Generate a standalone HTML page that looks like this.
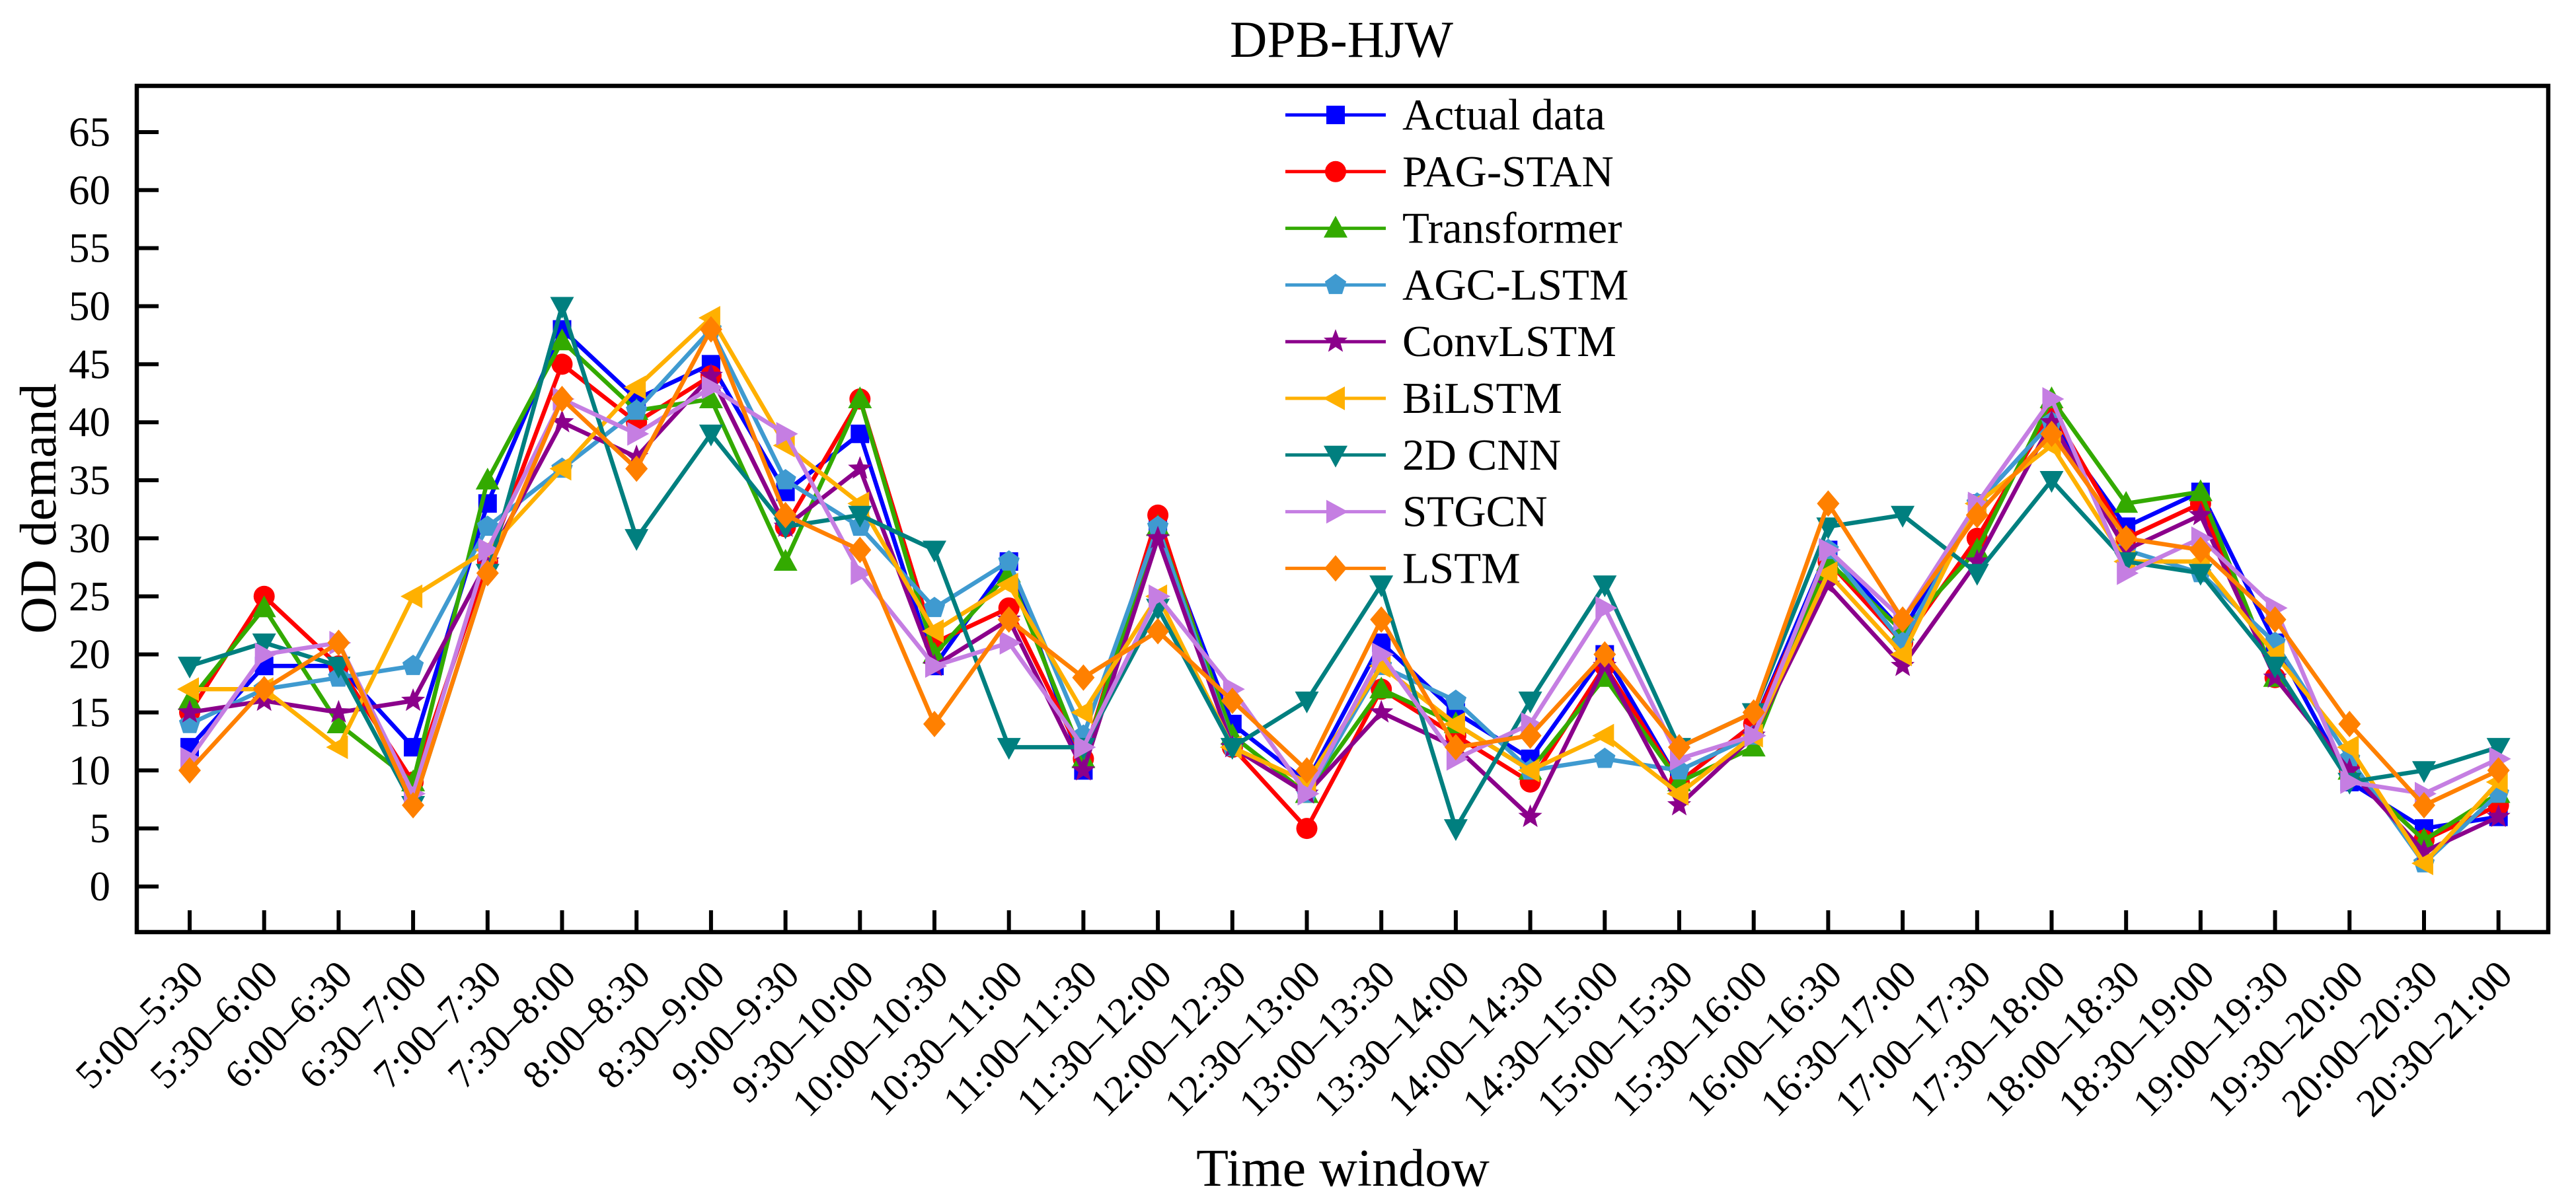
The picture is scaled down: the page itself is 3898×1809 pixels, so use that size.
<!DOCTYPE html>
<html><head><meta charset="utf-8"><style>
html,body{margin:0;padding:0;background:#fff;}
svg{display:block;font-family:"Liberation Serif",serif;}
</style></head><body>
<svg id="chart" width="3898" height="1809" viewBox="0 0 3898 1809" xmlns="http://www.w3.org/2000/svg">
<rect width="3898" height="1809" fill="#fff"/>
<text x="2030" y="86" font-size="78" text-anchor="middle">DPB-HJW</text>
<text transform="translate(84,770) rotate(-90)" font-size="78" text-anchor="middle">OD demand</text>
<text x="2032" y="1795" font-size="80" text-anchor="middle">Time window</text>
<g id="plot"></g>
</svg>
<script>
const categories=["5:00–5:30","5:30–6:00","6:00–6:30","6:30–7:00","7:00–7:30","7:30–8:00","8:00–8:30","8:30–9:00","9:00–9:30","9:30–10:00","10:00–10:30","10:30–11:00","11:00–11:30","11:30–12:00","12:00–12:30","12:30–13:00","13:00–13:30","13:30–14:00","14:00–14:30","14:30–15:00","15:00–15:30","15:30–16:00","16:00–16:30","16:30–17:00","17:00–17:30","17:30–18:00","18:00–18:30","18:30–19:00","19:00–19:30","19:30–20:00","20:00–20:30","20:30–21:00"];
const yTicks=[0,5,10,15,20,25,30,35,40,45,50,55,60,65];
const actualData=[12,19,19,12,33,48,42,45,34,39,19,28,10,31,14,9,21,15,11,20,9,14,29,22,33,40,31,34,21,9,5,6];
const pagStan=[15,25,19,9,28,45,40,44,31,42,21,24,11,32,12,5,17,13,9,19,9,14,28,21,30,41,30,33,18,10,4,7];
const transformer=[16,24,14,9,35,47,41,42,28,42,20,27,11,31,13,8,17,14,10,18,9,12,28,22,29,42,33,34,18,10,4,8];
const agcLstm=[14,17,18,19,31,36,41,48,35,31,24,28,13,31,12,8,19,16,10,11,10,13,29,21,33,40,29,27,21,11,2,8];
const convLstm=[15,16,15,16,28,40,37,44,31,36,19,23,10,30,12,8,15,12,6,19,7,13,26,19,28,40,29,32,18,10,3,6];
const biLstm=[17,17,12,25,29,36,43,49,38,33,22,26,15,25,12,9,19,14,10,13,8,13,27,20,33,38,28,28,20,12,2,9];
const cnn2d=[19,21,19,7,27,50,30,39,31,32,29,12,12,24,12,16,26,5,16,26,12,15,31,32,27,35,28,27,19,9,10,12];
const stgcn=[11,20,21,8,29,42,39,43,39,27,19,21,12,25,17,8,20,11,14,24,11,13,29,23,33,42,27,30,24,9,8,11];
const lstm=[10,17,21,7,27,42,36,48,32,29,14,23,18,22,16,10,23,12,13,20,12,15,33,23,32,39,30,29,23,14,7,10];
const seriesNames=["Actual data","PAG-STAN","Transformer","AGC-LSTM","ConvLSTM","BiLSTM","2D CNN","STGCN","LSTM"];
const seriesValues=[actualData,pagStan,transformer,agcLstm,convLstm,biLstm,cnn2d,stgcn,lstm];
const colors=["#0000ff","#ff0000","#33aa00","#3f9ad0","#8b008b","#ffb000","#007f7f","#c57ee2","#ff8000"];
const markers=["square","circle","triUp","pentagon","star","triLeft","triDown","triRight","diamond"];

const L=207,R=3856,T=130,B=1411;
const x0=287,dx=112.7;
const y0px=1342,yPer=17.57;
function xs(i){return x0+i*dx;}
function ys(v){return y0px-v*yPer;}
const NS="http://www.w3.org/2000/svg";
const plot=document.getElementById('plot');
function mk(tag,attrs,parent){const e=document.createElementNS(NS,tag);for(const k in attrs)e.setAttribute(k,attrs[k]);(parent||plot).appendChild(e);return e;}

const frame=mk('rect',{x:L,y:T,width:R-L,height:B-T,fill:'none',stroke:'#000','stroke-width':6.5});


yTicks.forEach(v=>{
  const t=mk('line',{x1:L,x2:L+33,y1:ys(v),y2:ys(v),stroke:'#000','stroke-width':6});
  
  
  const lb=mk('text',{x:167,y:ys(v)+21,'font-size':63,'text-anchor':'end'});
  lb.textContent=v;
  
  
});
categories.forEach((c,i)=>{
  const t=mk('line',{x1:xs(i),x2:xs(i),y1:B,y2:B-33,stroke:'#000','stroke-width':6});
  
  
  const lb=mk('text',{transform:`translate(${xs(i)+24},${B+68}) rotate(-45)`,'font-size':60,'text-anchor':'end'});
  lb.textContent=c;
  
  
});

function marker(type,cx,cy,color,g){
  let e;
  const poly=pts=>mk('polygon',{points:pts.map(p=>(cx+p[0])+','+(cy+p[1])).join(' '),fill:color},g);
  if(type==='square')e=mk('rect',{x:cx-14,y:cy-14,width:28,height:28,fill:color},g);
  else if(type==='circle')e=mk('circle',{cx:cx,cy:cy,r:16,fill:color},g);
  else if(type==='triUp')e=poly([[0,-19],[18,14],[-18,14]]);
  else if(type==='triDown')e=poly([[0,19],[18,-14],[-18,-14]]);
  else if(type==='triLeft')e=poly([[-19,0],[14,-18],[14,18]]);
  else if(type==='triRight')e=poly([[19,0],[-14,-18],[-14,18]]);
  else if(type==='diamond')e=poly([[0,-20],[17,0],[0,20],[-17,0]]);
  else if(type==='pentagon'){const p=[];for(let k=0;k<5;k++){const a=-Math.PI/2+k*2*Math.PI/5;p.push([17*Math.cos(a),17*Math.sin(a)]);}e=poly(p);}
  else if(type==='star'){const p=[];for(let k=0;k<10;k++){const a=-Math.PI/2+k*Math.PI/5;const r=k%2?8:19;p.push([r*Math.cos(a),r*Math.sin(a)]);}e=poly(p);}
  return e;
}

seriesValues.forEach((vals,si)=>{
  const g=mk('g',{});
  
  
  const pl=mk('polyline',{points:vals.map((v,i)=>xs(i)+','+ys(v)).join(' '),fill:'none',stroke:colors[si],'stroke-width':6.5,'stroke-linejoin':'round'},g);
  
  
  vals.forEach((v,i)=>{
    const m=marker(markers[si],xs(i),ys(v),colors[si],g);
    
    
  });
});

const lg=mk('g',{});


seriesNames.forEach((n,si)=>{
  const y=174+si*85.8;
  const g=mk('g',{},lg);
  
  
  mk('line',{x1:1945,x2:2097,y1:y,y2:y,stroke:colors[si],'stroke-width':5},g);
  marker(markers[si],2021,y,colors[si],g);
  const t=mk('text',{x:2122,y:y+22,'font-size':67},g);
  t.textContent=n;
});
</script>
</body></html>
